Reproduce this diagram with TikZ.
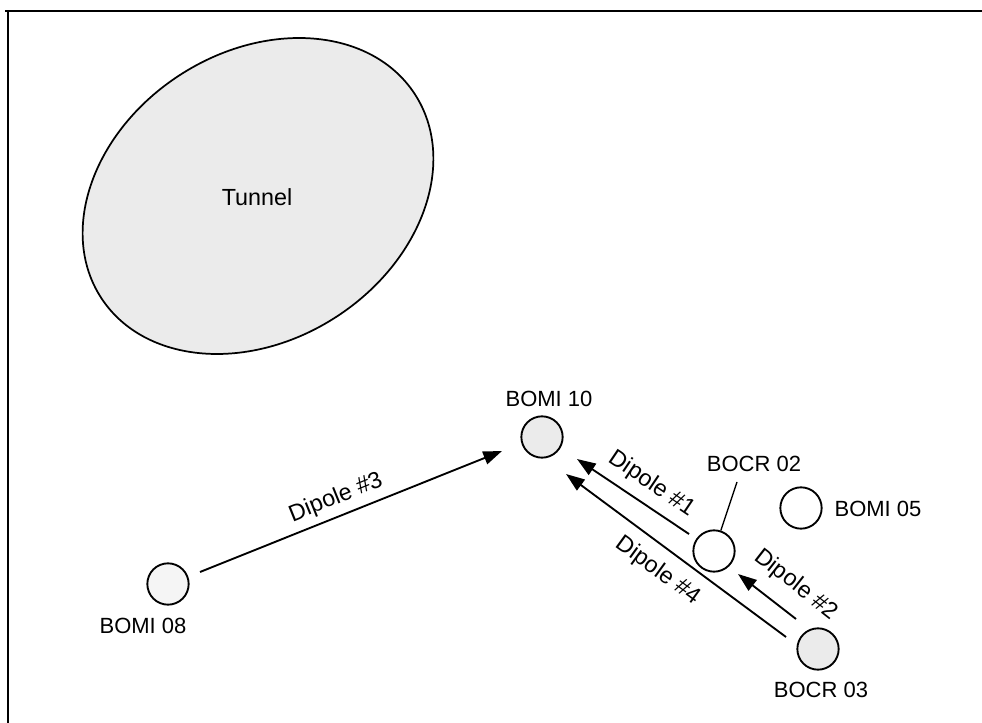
\documentclass[tikz,border=0pt]{standalone}
\usepackage{fontspec}
\setmainfont{Liberation Sans}
\usetikzlibrary{arrows.meta}
\begin{document}
\begin{tikzpicture}[x=0.75pt,y=-0.75pt,
  font=\fontsize{16.5}{19}\selectfont,
  station/.style={circle,draw,line width=1.4pt,minimum size=31pt,inner sep=0pt},
  shaded/.style={fill=gray!16},
  dip/.style={line width=1.4pt,-{Triangle[length=14pt,width=10pt]}},
  lbl/.style={inner sep=0pt},
  diplbl/.style={inner sep=0pt,font=\fontsize{17.5}{20}\selectfont},
  leader/.style={line width=1pt}]
\useasboundingbox (0,0) rectangle (982,723);
% frame
\draw[line width=2pt] (5,11) -- (982,11);
\draw[line width=2pt] (8,11) -- (8,723);
% tunnel
\draw[line width=1.3pt,fill=gray!16,rotate around={33:(258,196)}] (258,196) ellipse [x radius=187, y radius=144];
\node[lbl,font=\fontsize{17.5}{20}\selectfont] (tunnel) at (257,197) {Tunnel};
% stations
\node[station,shaded] (b10) at (542,437) {};
\node[lbl] (b10l) at (549,399) {BOMI 10};
\node[station] (b02) at (714,551) {};
\node[lbl] (b02l) at (754,464) {BOCR 02};
\node[station] (b05) at (801,508) {};
\node[lbl] (b05l) at (878,509) {BOMI 05};
\node[station,shaded] (b03) at (818,649) {};
\node[lbl] (b03l) at (821,690) {BOCR 03};
\node[station,fill=gray!8] (b08) at (168,584) {};
\node[lbl] (b08l) at (143,626) {BOMI 08};
% leader
\coordinate (lead) at (737,482);
\draw[leader] (lead) -- (b02);
% dipole arrows
\coordinate (d1s) at (689,534); \coordinate (d1e) at (577,459);
\coordinate (d4s) at (786,637); \coordinate (d4e) at (566,474);
\coordinate (d2s) at (796,619); \coordinate (d2e) at (738,574);
\coordinate (d3s) at (200,572); \coordinate (d3e) at (502,451);
\draw[dip] (d1s) -- (d1e);
\draw[dip] (d4s) -- (d4e);
\draw[dip] (d2s) -- (d2e);
\draw[dip] (d3s) -- (d3e);
% dipole labels
\node[diplbl,rotate=22] (l3) at (336,498) {Dipole \#3};
\node[diplbl,rotate=-34] (l1) at (652,484) {Dipole \#1};
\node[diplbl,rotate=-36] (l4) at (658,571) {Dipole \#4};
\node[diplbl,rotate=-38] (l2) at (796,585) {Dipole \#2};
\end{tikzpicture}
\end{document}
